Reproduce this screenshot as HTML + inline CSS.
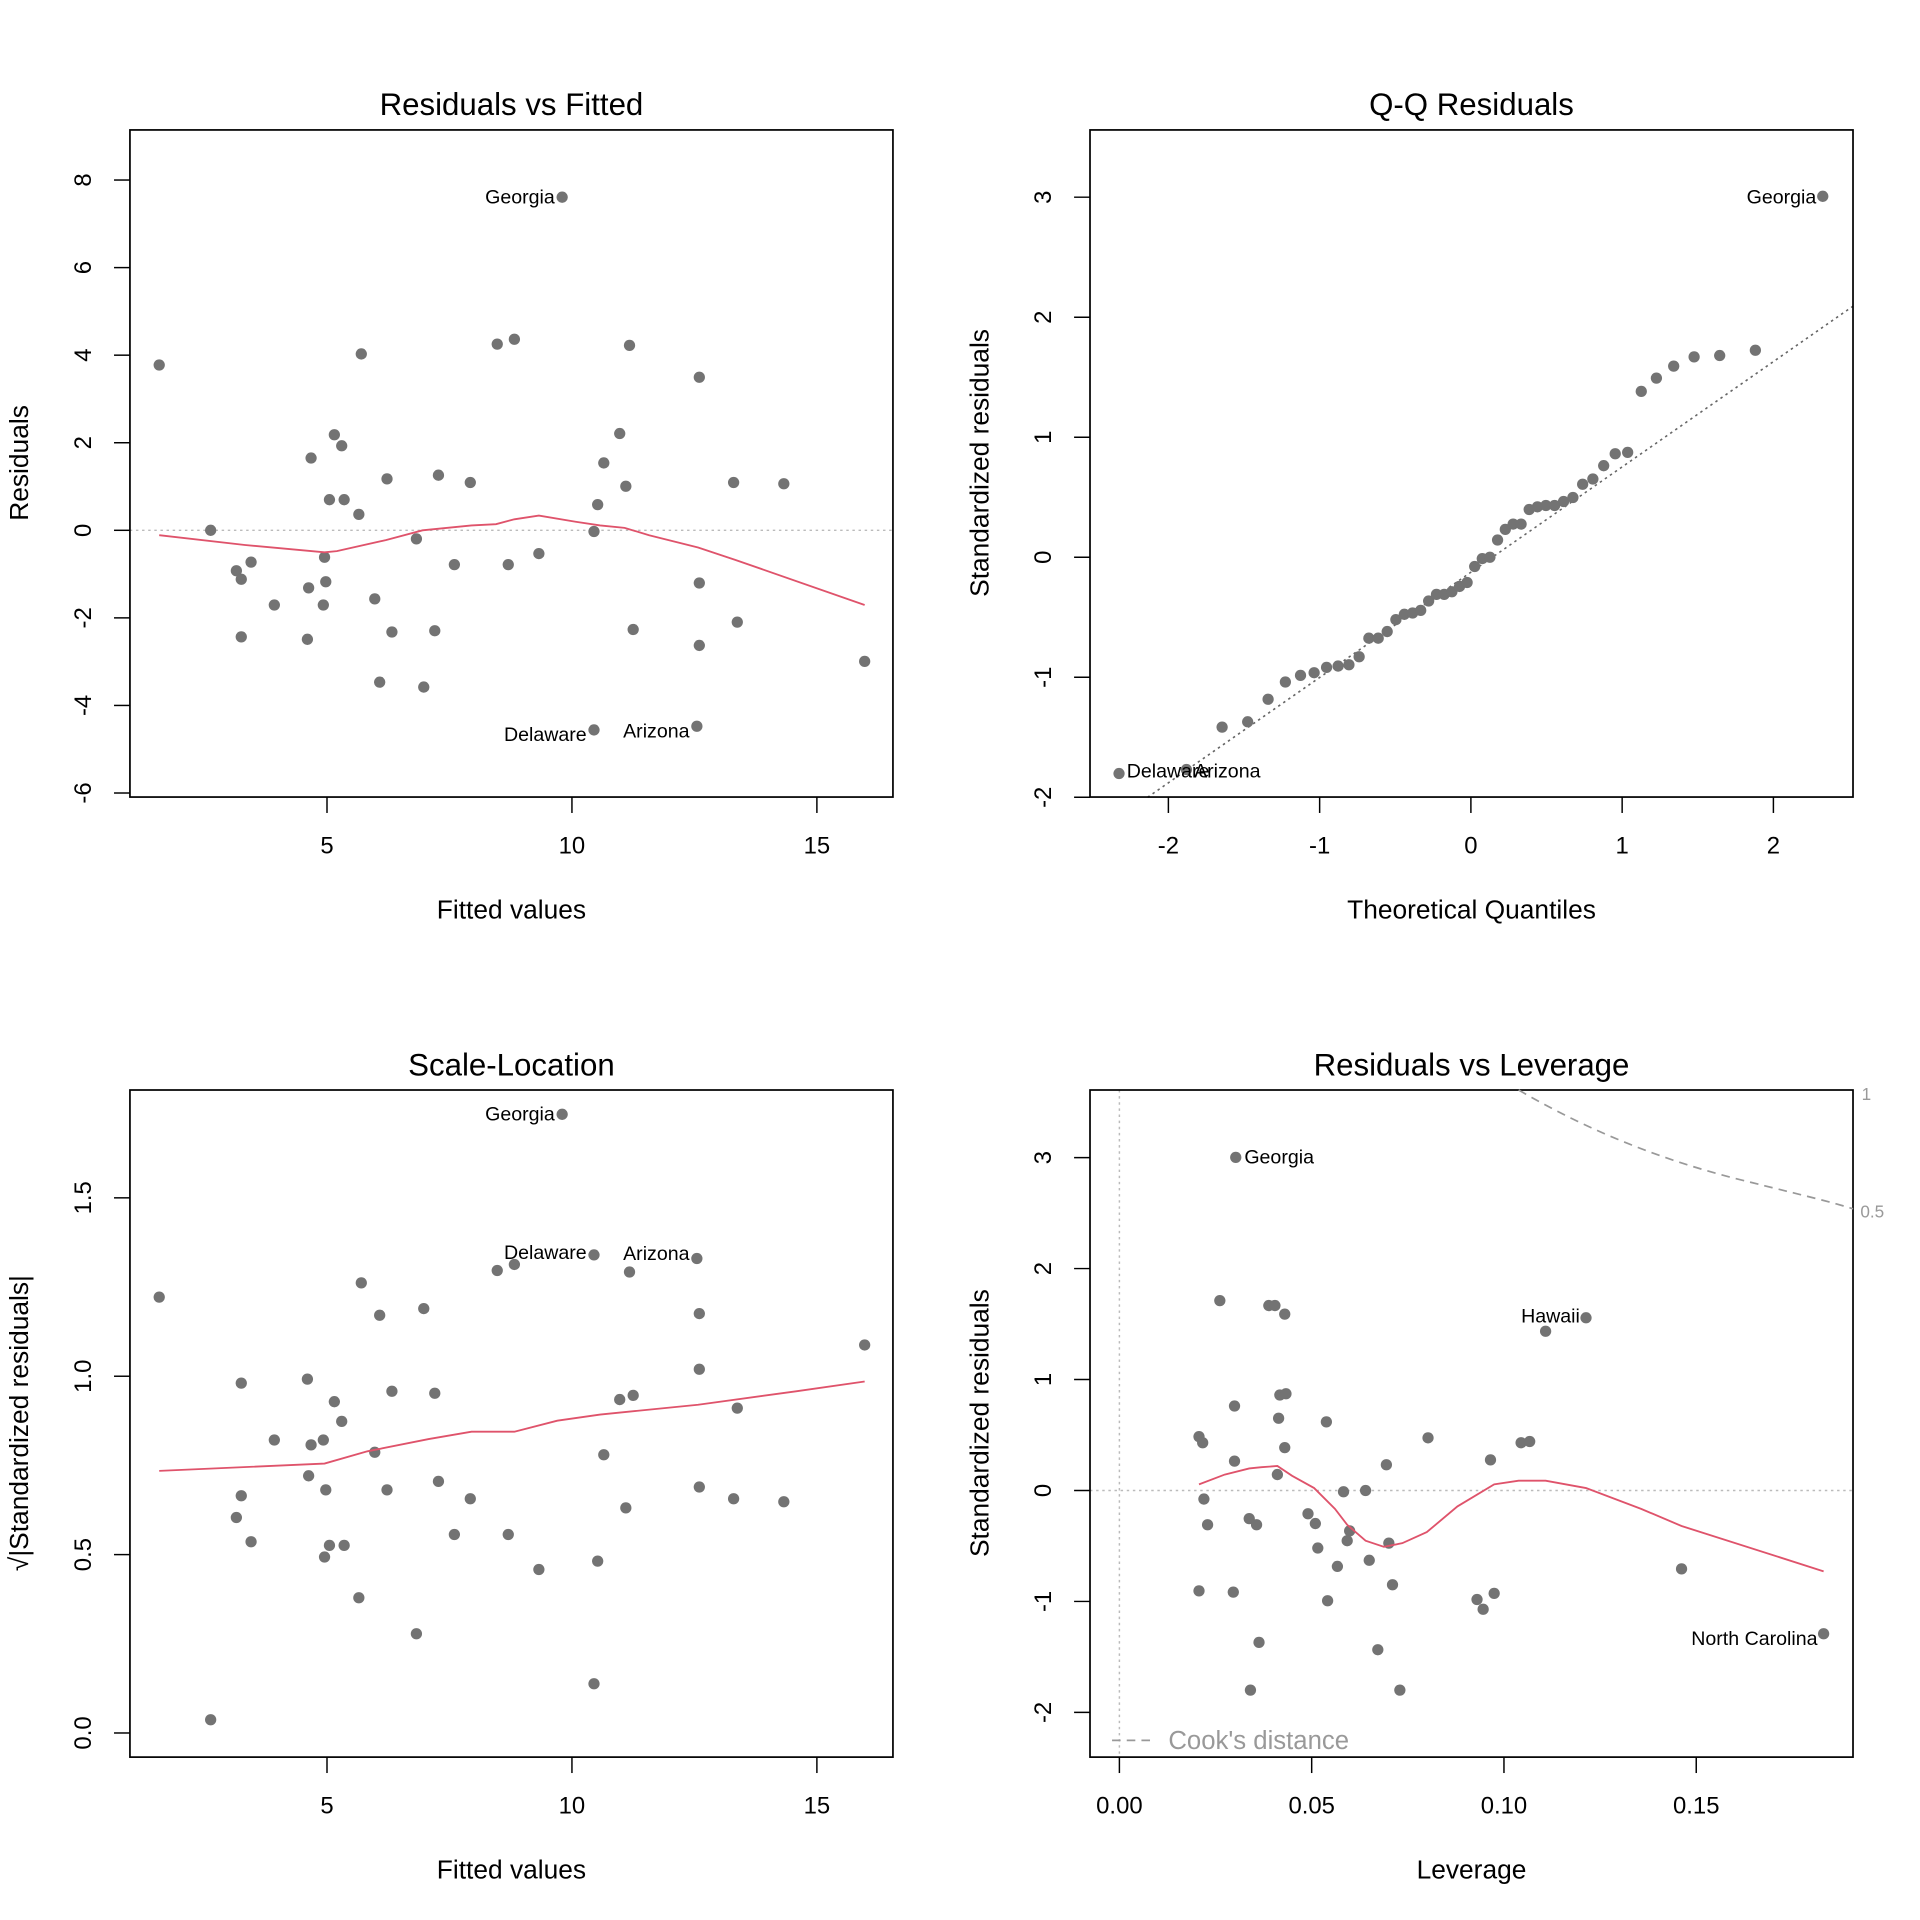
<!DOCTYPE html>
<html><head><meta charset="utf-8"><style>html,body{margin:0;padding:0;background:#fff}svg{display:block}text{font-family:"Liberation Sans",Arial,sans-serif}</style></head>
<body>
<svg id="s" xmlns="http://www.w3.org/2000/svg" width="1920" height="1920" viewBox="0 0 1567.7 1567.7">
<text x="417.6" y="94" font-size="25.5" text-anchor="middle">Residuals vs Fitted</text>
<text x="1201.5" y="94" font-size="25.5" text-anchor="middle">Q-Q Residuals</text>
<text x="417.6" y="878" font-size="25.5" text-anchor="middle">Scale-Location</text>
<text x="1201.5" y="878" font-size="25.5" text-anchor="middle">Residuals vs Leverage</text>
<text x="417.6" y="750" font-size="21.5" text-anchor="middle">Fitted values</text>
<text x="1201.5" y="750" font-size="21.5" text-anchor="middle">Theoretical Quantiles</text>
<text x="417.6" y="1534" font-size="21.5" text-anchor="middle">Fitted values</text>
<text x="1201.5" y="1534" font-size="21.5" text-anchor="middle">Leverage</text>
<text transform="translate(23,378) rotate(-90)" font-size="21.5" text-anchor="middle">Residuals</text>
<text transform="translate(807,378) rotate(-90)" font-size="21.5" text-anchor="middle">Standardized residuals</text>
<text transform="translate(23,1162) rotate(-90)" font-size="21.5" text-anchor="middle">√|Standardized residuals|</text>
<text transform="translate(807,1162) rotate(-90)" font-size="21.5" text-anchor="middle">Standardized residuals</text>
</svg>
<script>
var S=document.getElementById('s'),NS='http://www.w3.org/2000/svg';
function el(t,a,txt){var e=document.createElementNS(NS,t);for(var k in a)e.setAttribute(k,a[k]);if(txt!=null)e.textContent=txt;S.appendChild(e);return e;}
function frame(x0,y0){el('rect',{x:x0,y:y0,width:623,height:544.7,fill:'none',stroke:'#000','stroke-width':1.4});}
function xt(x,y,lab){el('line',{x1:x,y1:y,x2:x,y2:y+13,stroke:'#000','stroke-width':1.2});el('text',{x:x,y:y+46,'font-size':19.5,'text-anchor':'middle'},lab);}
function yt(x,y,lab){el('line',{x1:x,y1:y,x2:x-13,y2:y,stroke:'#000','stroke-width':1.2});el('text',{transform:'translate('+(x-32)+','+y+') rotate(-90)','font-size':19.5,'text-anchor':'middle'},lab);}
function pt(x,y){el('circle',{cx:x,cy:y,r:4.6,fill:'#737373'});}
function pl(pts,a){el('polyline',Object.assign({points:pts.map(p=>p.join(',')).join(' '),fill:'none'},a));}
function lab(x,y,t,anc,c,fs){el('text',{x:x,y:y,'font-size':fs||16,'text-anchor':anc||'end',fill:c||'#000'},t);}
var red={stroke:'#DF536B','stroke-width':1.5};
var P=[[130,298],[172,433],[193,466],[197,473],[205,459],[197,520],[224,494],[251,522],[252,480],[254,374],[265,455],[266,475],[264,494],[269,408],[273,355],[279,364],[281,408],[293,420],[295,289],[306,489],[310,557],[316,391],[320,516],[340,440],[346,561],[355,515],[358,388],[371,461],[384,394],[406,281],[415,461],[420,277],[440,452],[459,161],[485,434],[485,596],[488,412],[493,378],[506,354],[511,397],[514,282],[517,514],[569,593],[571,476],[571,527],[571,308],[599,394],[602,508],[640,395],[706,540]];
el('line',{x1:106,y1:433,x2:729,y2:433,stroke:'#bbb','stroke-dasharray':'2,3','stroke-width':1.2});
frame(106.1,106.1);
[5,10,15].forEach(v=>xt(67+40*v,650.8,''+v));
[-6,-4,-2,0,2,4,6,8].forEach(v=>yt(106.1,433-35.75*v,''+v));
P.forEach(p=>pt(p[0],p[1]));
pl([[130,437],[200,445],[265,451],[275,450],[315,441],[345,433],[385,429],[405,428],[420,424],[440,421],[470,426],[490,429],[510,431],[530,437],[570,447],[600,457],[706,494]],red);
lab(453,166,'Georgia');lab(479,605,'Delaware');lab(563,602,'Arizona');
var ox=783.9;
el('line',{x1:937,y1:651,x2:1513,y2:250,stroke:'#666','stroke-dasharray':'2,3','stroke-width':1.3});
frame(106.1+ox,106.1);
[-2,-1,0,1,2].forEach(v=>xt(1201+123.5*v,650.8,''+v));
[-2,-1,0,1,2,3].forEach(v=>yt(106.1+ox,455-98*v,''+v));
function qn(p){var a=[-39.6968302866538,220.946098424521,-275.928510446969,138.357751867269,-30.6647980661472,2.50662827745924],b=[-54.4760987982241,161.585836858041,-155.698979859887,66.8013118877197,-13.2806815528857],c=[-7.78489400243029e-3,-0.322396458041136,-2.40075827716184,-2.54973253934373,4.37466414146497,2.93816398269878],d=[7.78469570904146e-3,0.32246712088858,2.445134137143,3.75440866190742],q,r;
if(p<0.02425){q=Math.sqrt(-2*Math.log(p));return(((((c[0]*q+c[1])*q+c[2])*q+c[3])*q+c[4])*q+c[5])/((((d[0]*q+d[1])*q+d[2])*q+d[3])*q+1);}
if(p>1-0.02425){return -qn(1-p);}
q=p-0.5;r=q*q;return(((((a[0]*r+a[1])*r+a[2])*r+a[3])*r+a[4])*r+a[5])*q/(((((b[0]*r+b[1])*r+b[2])*r+b[3])*r+b[4])*r+1);}
var R=P.map(p=>(433-p[1])/35.75/2.53).sort((a,b)=>a-b);
R.forEach((v,i)=>pt(1201+123.5*qn((i+0.5)/50),455-98*v));
lab(1483,166,'Georgia');lab(920,635,'Delaware','start');lab(975,635,'Arizona','start');
var oy=783.9;
frame(106.1,106.1+oy);
[5,10,15].forEach(v=>xt(67+40*v,650.8+oy,''+v));
[0,0.5,1,1.5].forEach(v=>yt(106.1,1415-291.3*v,v.toFixed(1)));
P.forEach(p=>{var r=(433-p[1])/35.75/2.53;var s=Math.sqrt(Math.abs(r));if(p[1]==433)s=0.037;if(p[1]==434)s=0.138;if(p[1]==596)s=1.34;pt(p[0],1415-291.3*s);});
pl([[130,1201],[265,1195],[300,1185],[350,1175],[385,1169],[420,1169],[455,1160],[490,1155],[520,1152],[570,1147],[650,1136],[706,1128]],red);
lab(453,915,'Georgia');lab(479,1028,'Delaware');lab(563,1029,'Arizona');
el('line',{x1:914,y1:890,x2:914,y2:1435,stroke:'#bbb','stroke-dasharray':'2,3','stroke-width':1.2});
el('line',{x1:890,y1:1217,x2:1513,y2:1217,stroke:'#bbb','stroke-dasharray':'2,3','stroke-width':1.2});
frame(106.1+ox,106.1+oy);
[[0,'0.00'],[0.05,'0.05'],[0.1,'0.10'],[0.15,'0.15']].forEach(v=>xt(914+3140*v[0],650.8+oy,v[1]));
[-2,-1,0,1,2,3].forEach(v=>yt(106.1+ox,1217-90.6*v,''+v));
[[1009,945],[996,1062],[1036,1066],[1041,1066],[1049,1073],[1262,1087],[1295,1076],[1008,1148],[1045,1139],[1050,1138],[1044,1158],[1083,1161],[979,1173],[982,1178],[1166,1174],[1242,1178],[1249,1177],[1049,1182],[1008,1193],[1217,1192],[1132,1196],[1043,1204],[1115,1217],[1097,1218],[983,1224],[1068,1236],[1074,1244],[986,1245],[1020,1240],[1026,1245],[1102,1250],[1100,1258],[1134,1260],[1076,1264],[1092,1279],[1118,1274],[1373,1281],[979,1299],[1007,1300],[1084,1307],[1137,1294],[1206,1306],[1211,1314],[1220,1301],[1028,1341],[1125,1347],[1021,1380],[1143,1380],[1489,1334]].forEach(p=>pt(p[0],p[1]));
pl([[979,1212],[1000,1204],[1020,1199],[1030,1198],[1043,1197],[1055,1205],[1073,1215],[1090,1232],[1100,1245],[1115,1258],[1130,1263],[1145,1260],[1165,1251],[1190,1230],[1220,1212],[1240,1209],[1262,1209],[1295,1215],[1340,1232],[1373,1246],[1489,1283]],red);
el('path',{d:'M1240,890 C1300,925 1360,948 1420,963 S1490,980 1513,987',fill:'none',stroke:'#999','stroke-width':1.4,'stroke-dasharray':'7,5'});
lab(1520,898,'1','start','#999',14);lab(1519,994,'0.5','start','#999',14);
el('line',{x1:908,y1:1421,x2:944,y2:1421,stroke:'#999','stroke-width':1.4,'stroke-dasharray':'7,5'});
lab(954,1428,"Cook's distance",'start','#999',21);
lab(1016,950,'Georgia','start');lab(1290,1080,'Hawaii');lab(1484,1343,'North Carolina');
</script>
</body></html>
